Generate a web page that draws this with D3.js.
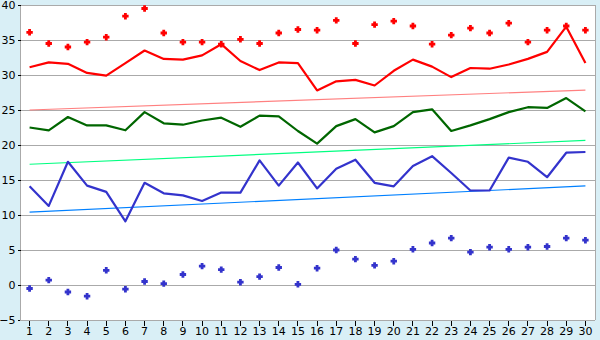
<!DOCTYPE html>
<html><head><meta charset="utf-8">
<script src="https://cdn.jsdelivr.net/npm/d3@7/dist/d3.min.js"></script>
<style>html,body{margin:0;padding:0;background:#d9eff6;}svg{display:block;}</style>
</head><body><svg id="c" width="600" height="340"></svg>
<script>
const categories = d3.range(1, 31).map(String);
const redLine = [31.1,31.8,31.6,30.3,29.9,31.7,33.5,32.3,32.2,32.8,34.4,32.0,30.7,31.8,31.7,27.8,29.1,29.3,28.5,30.6,32.2,31.2,29.7,31.0,30.9,31.5,32.3,33.3,36.9,31.7];
const redPoints = [36.1,34.5,34.0,34.7,35.4,38.4,39.5,36.0,34.7,34.7,34.4,35.1,34.5,36.0,36.5,36.4,37.8,34.5,37.2,37.7,37.0,34.4,35.7,36.7,36.0,37.4,34.7,36.4,37.0,36.4];
const greenLine = [22.5,22.1,24.0,22.8,22.8,22.1,24.7,23.1,22.9,23.5,23.9,22.6,24.2,24.1,22.0,20.2,22.7,23.7,21.8,22.7,24.7,25.1,22.0,22.8,23.7,24.7,25.4,25.3,26.7,24.8];
const blueLine = [14.1,11.3,17.6,14.2,13.3,9.1,14.6,13.1,12.8,12.0,13.2,13.2,17.8,14.2,17.5,13.8,16.6,17.9,14.6,14.1,17.0,18.4,16.0,13.5,13.5,18.2,17.6,15.4,18.9,19.0];
const bluePoints = [-0.5,0.7,-1.0,-1.6,2.1,-0.6,0.5,0.2,1.5,2.7,2.2,0.4,1.2,2.5,0.1,2.4,5.0,3.7,2.8,3.4,5.1,6.0,6.7,4.7,5.4,5.1,5.4,5.5,6.7,6.4];
const redTrend = [25.0, 27.85];
const greenTrend = [17.25, 20.65];
const blueTrend = [10.4, 14.15];
const yTicks = [-5,0,5,10,15,20,25,30,35,40];

const svg = d3.select('#c');
const L=20, R=595, T=5, B=320;
const x = d3.scaleBand().domain(categories).range([L,R]);
const cx = c => x(c) + x.bandwidth()/2;
const y = d3.scaleLinear().domain([-5,40]).range([B,T]);

svg.append('rect').attr('x',L).attr('y',T).attr('width',R-L).attr('height',B-T).attr('fill','#fff');

// grid
svg.append('g').selectAll('line').data(yTicks.filter(v=>v>-5)).join('line')
  .attr('x1',L).attr('x2',R).attr('y1',d=>Math.round(y(d))+0.5).attr('y2',d=>Math.round(y(d))+0.5)
  .attr('stroke','#aaaaaa').attr('stroke-width',1).attr('shape-rendering','crispEdges');
svg.append('line').attr('x1',R+0.5).attr('x2',R+0.5).attr('y1',T).attr('y2',B)
  .attr('stroke','#aaaaaa').attr('shape-rendering','crispEdges');

// axes
const yAxis = d3.axisLeft(y).tickValues(yTicks).tickSize(3).tickPadding(2).tickFormat(d=>d<0?'\u2212'+Math.abs(d):d);
const gy = svg.append('g').attr('transform',`translate(${L+0.5},0)`).call(yAxis);
const xAxis = d3.axisBottom(x).tickSize(5).tickPadding(2);
const gx = svg.append('g').attr('transform',`translate(0,${B+0.5})`).call(xAxis);
[gx,gy].forEach(g=>{
  g.select('.domain').attr('stroke','#aaaaaa').attr('shape-rendering','crispEdges');
  g.selectAll('.tick line').attr('stroke','#000').attr('shape-rendering','crispEdges');
  g.selectAll('text').attr('fill','#000').style('font-family','Verdana, "DejaVu Sans", sans-serif').style('font-size','11px');
});
gx.select('.domain').attr('d',`M${L},0H${R}`);
gy.select('.domain').attr('d',`M0,${B}V${T}`);

// trend lines
function trend(vals,color){
  svg.append('line').attr('x1',cx(categories[0])).attr('x2',cx(categories[categories.length-1]))
    .attr('y1',y(vals[0])).attr('y2',y(vals[1])).attr('stroke',color).attr('stroke-width',1.2);
}
trend(redTrend,'#ff8080');
trend(greenTrend,'#00ff80');
trend(blueTrend,'#0080ff');

const line = d3.line().x((d,i)=>cx(categories[i])).y(d=>y(d));
function drawLine(vals,color){
  svg.append('path').attr('d',line(vals)).attr('fill','none').attr('stroke',color).attr('stroke-width',2.2).attr('stroke-linejoin','round');
}
drawLine(redLine,'#ff0000');
drawLine(greenLine,'#006600');
drawLine(blueLine,'#3333cc');

// fat plus marker
const fatPlus = { draw(ctx, size){
  const a = 3.2, b = 1.4;
  ctx.moveTo(-b,-a); ctx.lineTo(b,-a); ctx.lineTo(b,-b); ctx.lineTo(a,-b); ctx.lineTo(a,b);
  ctx.lineTo(b,b); ctx.lineTo(b,a); ctx.lineTo(-b,a); ctx.lineTo(-b,b); ctx.lineTo(-a,b);
  ctx.lineTo(-a,-b); ctx.lineTo(-b,-b); ctx.closePath();
}};
function drawPoints(vals,color){
  const sym = d3.symbol().type(fatPlus);
  svg.append('g').selectAll('path').data(vals).join('path')
    .attr('transform',(d,i)=>`translate(${cx(categories[i])},${y(d)})`)
    .attr('d',sym).attr('fill',color);
}
drawPoints(redPoints,'#ff0000');
drawPoints(bluePoints,'#3333cc');
</script></body></html>
